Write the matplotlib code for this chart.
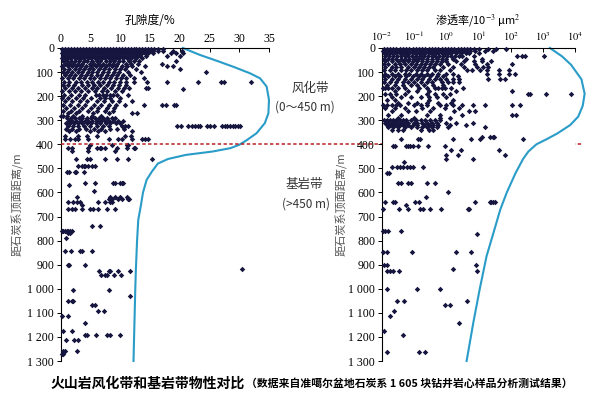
import matplotlib
matplotlib.use('Agg')
import matplotlib.pyplot as plt
from matplotlib.ticker import FixedLocator, FixedFormatter

plt.rcParams['mathtext.fontset'] = 'stix'

# ---------------- data ----------------
depth_ticks = [0, 100, 200, 300, 400, 500, 600, 700, 800, 900, 1000, 1100, 1200, 1300]
depth_labels = ['0', '100', '200', '300', '400', '500', '600', '700', '800', '900',
                '1 000', '1 100', '1 200', '1 300']
por_ticks = [0, 5, 10, 15, 20, 25, 30, 35]
perm_ticks = [1e-2, 1e-1, 1e0, 1e1, 1e2, 1e3, 1e4]
perm_labels = [r'$10^{-2}$', r'$10^{-1}$', r'$10^{0}$', r'$10^{1}$', r'$10^{2}$', r'$10^{3}$', r'$10^{4}$']

# porosity samples: (depth m, [porosity %])
por_rows = [
    (3, [0.2, 0.7, 1.2, 1.7, 2.2, 2.7, 3.2, 3.7, 4.2, 4.7, 5.2, 5.7, 6.2, 6.7, 7.2, 7.7, 8.2, 8.7, 9.2, 9.7,
         10.2, 10.7, 11.2, 11.7, 12.2, 12.7, 13.2, 13.7, 14.2, 14.7, 15.2, 15.6, 16.3, 17.1]),
    (12, [0.4, 0.9, 1.4, 1.9, 2.4, 2.9, 3.4, 3.9, 4.4, 4.9, 5.4, 5.9, 6.4, 6.9, 7.4, 7.9, 8.4, 8.9, 9.4, 9.9,
          10.4, 10.9, 11.4, 11.9, 12.4, 12.9, 13.4, 13.9, 14.4, 14.9, 15.4, 16.4, 17.2, 18.9, 20.3]),
    (22, [0.2, 0.7, 1.2, 1.7, 2.2, 2.7, 3.2, 3.7, 4.2, 4.7, 5.2, 5.7, 6.2, 6.7, 7.2, 7.7, 8.2, 8.7, 9.2, 9.7,
          10.2, 10.7, 11.2, 11.7, 12.2, 12.7, 13.2, 13.7, 14.2, 14.7, 15.5, 18.5, 19.4, 20.6]),
    (32, [0.3, 0.8, 1.3, 1.8, 2.3, 2.8, 3.3, 3.8, 4.3, 4.8, 5.3, 5.8, 6.3, 6.8, 7.3, 7.8, 8.3, 8.8, 9.3, 9.8,
          10.3, 10.8, 11.3, 11.8, 12.3, 12.8, 13.3, 14.3, 17.8, 20.0]),
    (42, [0.1, 0.6, 1.1, 1.7, 2.3, 2.8, 3.4, 3.9, 4.6, 5.1, 5.7, 6.3, 6.9, 7.4, 8.0, 8.6, 9.2, 9.8,
          10.5, 11.1, 11.8, 12.6, 13.6]),
    (55, [0.3, 1.0, 1.6, 2.4, 3.1, 3.9, 4.4, 5.2, 6.0, 6.6, 7.5, 8.2, 9.0, 9.8, 10.5, 11.4, 12.3, 13.1, 19.4]),
    (65, [0.6, 1.3, 2.0, 2.9, 3.6, 4.8, 5.6, 6.3, 7.1, 8.0, 8.8, 9.5, 10.9, 11.8, 12.9, 17.0]),
    (76, [0.2, 1.1, 1.9, 2.6, 3.4, 4.2, 5.0, 5.9, 6.8, 7.6, 8.5, 9.3, 10.2, 11.1, 12.0, 14.1, 17.8, 18.8]),
    (88, [0.5, 1.4, 2.3, 3.0, 3.9, 4.7, 5.4, 6.4, 7.2, 8.0, 9.1, 10.0, 10.8, 12.6, 20.0]),
    (100, [0.3, 1.0, 1.8, 2.8, 3.5, 4.5, 5.3, 6.1, 7.0, 7.9, 8.9, 9.7, 11.3, 13.5, 24.4]),
    (112, [0.7, 1.5, 2.4, 3.3, 4.2, 5.0, 6.0, 6.8, 7.7, 8.6, 9.5, 10.4, 11.6]),
    (125, [0.2, 1.2, 2.0, 3.0, 3.8, 4.8, 5.6, 6.5, 7.4, 8.3, 9.2, 10.1, 11.0, 12.3, 14.0]),
    (140, [0.5, 1.4, 2.5, 3.4, 4.3, 5.3, 6.2, 7.1, 8.1, 9.0, 10.0, 11.0, 12.2, 14.4, 17.9, 23.1, 26.9, 27.4, 31.9]),
    (152, [0.3, 1.2, 2.2, 3.5, 4.5, 5.6, 6.5, 7.7, 8.8, 9.8, 10.9]),
    (165, [0.7, 1.8, 2.8, 4.0, 5.2, 6.1, 7.3, 8.4, 9.6, 10.6, 11.5, 14.3, 14.7]),
    (172, [20.5]),
    (180, [0.2, 1.3, 2.4, 3.3, 4.6, 5.7, 6.9, 7.8, 9.1, 10.2]),
    (195, [0.5, 1.6, 3.0, 4.1, 5.9, 6.4, 7.0, 7.6, 8.2, 8.8, 9.5, 11.2]),
    (208, [0.2, 1.1, 2.5, 3.7, 5.0, 6.6, 7.4, 8.3, 10.0]),
    (222, [0.6, 1.9, 3.2, 4.4, 6.0, 7.2, 8.6, 9.8, 12.0]),
    (236, [0.3, 1.5, 2.8, 4.1, 5.5, 6.8, 8.0, 9.3, 10.8, 13.9, 17.0, 17.7, 19.0, 19.4]),
    (250, [0.8, 2.2, 3.5, 5.0, 6.2, 7.8, 9.0]),
    (262, [0.4, 1.7, 3.0, 4.6, 6.0, 7.4, 8.7]),
    (272, [1.2, 2.5, 5.4, 8.0, 11.9, 12.8]),
    (283, [0.0, 0.4, 1.0, 2.0, 3.5, 5.2, 6.8]),
    (292, [1.0, 1.6, 2.3, 3.0, 3.6, 4.3, 5.0, 5.7, 6.4, 7.1, 7.8, 8.5, 9.1]),
    (302, [1.3, 1.9, 2.6, 3.3, 4.0, 4.6, 5.3, 6.0, 6.7, 7.4, 8.1, 8.8, 9.6, 10.5]),
    (312, [0.8, 1.5, 2.2, 2.9, 3.6, 4.4, 5.1, 5.9, 6.6, 7.5, 8.3, 9.2, 10.0]),
    (325, [1.1, 2.0, 2.9, 3.8, 4.9, 6.0, 7.0, 8.0, 10.2, 10.8, 11.3, 19.5, 20.2, 21.4, 22.0, 22.5, 23.0, 23.4,
           24.6, 25.1, 25.8, 27.1, 27.6, 28.0, 28.4, 28.9, 29.3, 29.7, 30.1]),
    (335, [0.8, 1.8, 3.0, 4.2, 5.5, 6.8, 8.2, 9.5, 10.6]),
    (346, [1.4, 2.6, 4.8, 6.3, 7.4, 12.0]),
    (366, [0.7, 2.9, 4.3, 6.0, 10.7, 11.8]),
    (380, [0.7, 1.5, 2.4, 2.9, 4.6, 8.0, 9.6, 10.2, 11.9, 13.6, 14.1, 14.7]),
    (401, [4.9, 8.5, 11.1, 11.3]),
    (416, [1.2, 1.8, 4.6, 6.0, 6.6, 6.8, 7.4, 9.4, 11.1, 12.2, 12.5]),
    (426, [1.8, 4.5, 9.1]),
    (463, [2.5, 4.3, 4.9, 7.4, 9.4, 11.3, 15.3]),
    (491, [2.9, 3.5, 3.8, 4.0, 4.6, 5.2, 5.7]),
    (517, [1.0, 1.4, 2.4, 2.6, 3.9]),
    (561, [4.0, 5.7, 8.8, 9.1, 9.9, 10.2, 10.4]),
    (569, [1.4]),
    (596, [5.6]),
    (617, [2.7, 8.2, 9.1, 9.9, 11.1]),
    (627, [8.0, 8.5, 9.6, 10.2, 11.2, 11.4]),
    (640, [1.2, 2.1, 2.7, 3.2, 6.3, 7.4, 8.2, 8.5]),
    (651, [3.6]),
    (668, [1.2, 1.8, 2.4, 3.6, 4.8, 5.4, 6.3, 7.7, 9.1]),
    (741, [5.3, 6.6]),
    (758, [0.1, 0.4, 0.7, 1.0, 1.2, 1.5, 1.8]),
    (768, [1.2, 1.5]),
    (789, [0.8]),
    (845, [0.7, 1.6, 3.2, 3.6, 5.3]),
    (901, [1.2, 1.4, 4.0]),
    (917, [30.4]),
    (925, [6.4, 8.0, 8.2, 9.6, 11.6]),
    (943, [6.8, 7.4, 7.8, 9.0, 10.1]),
    (1004, [2.0, 8.0]),
    (1032, [11.6]),
    (1050, [1.2, 1.8, 2.1]),
    (1066, [5.3, 5.7]),
    (1091, [6.2, 7.2]),
    (1112, [0.1, 1.2]),
    (1141, [4.0]),
    (1177, [0.3, 1.8]),
    (1193, [4.0, 4.4, 5.9, 7.7, 8.2, 10.0]),
    (1214, [0.8, 2.2, 2.9]),
    (1260, [0.3, 0.6, 2.7]),
    (1270, [0.1, 0.4]),
]

# permeability samples: (depth m, [log10 permeability, 10^-3 um^2])
perm_rows = [
    (3, [-1.95, -1.85, -1.75, -1.65, -1.55, -1.45, -1.35, -1.25, -1.15, -1.05, -0.95, -0.85, -0.75, -0.65,
         -0.55, -0.45, -0.35, -0.25, -0.15, -0.05, 0.05, 0.15, 0.25, 0.35, 0.45, 0.55, 0.65, 0.75, 0.85, 1.0,
         1.3, 1.55, 1.87]),
    (12, [-1.98, -1.88, -1.78, -1.68, -1.58, -1.48, -1.38, -1.28, -1.18, -1.08, -0.98, -0.88, -0.78, -0.68,
          -0.58, -0.48, -0.38, -0.28, -0.18, -0.08, 0.02, 0.12, 0.22, 0.32, 0.42, 0.52, 0.62, 0.75, 0.9,
          1.2, 1.45]),
    (22, [-1.95, -1.85, -1.75, -1.65, -1.55, -1.45, -1.35, -1.25, -1.15, -1.05, -0.95, -0.85, -0.75, -0.65,
          -0.55, -0.45, -0.35, -0.25, -0.15, -0.05, 0.05, 0.15, 0.3, 0.45, 0.6, 0.7, 1.0]),
    (33, [-1.9, -1.78, -1.66, -1.54, -1.42, -1.3, -1.18, -1.06, -0.94, -0.82, -0.7, -0.58, -0.46, -0.34,
          -0.22, -0.1, 0.02, 0.14, 0.26, 0.38, 0.5, 0.85, 2.2, 2.35, 2.45, 3.03]),
    (44, [-1.95, -1.82, -1.7, -1.55, -1.42, -1.3, -1.15, -1.0, -0.88, -0.75, -0.6, -0.45, -0.3, -0.15,
          0.0, 0.2, 0.6, 1.1]),
    (55, [-1.9, -1.7, -1.5, -1.35, -1.2, -1.05, -0.9, -0.75, -0.6, -0.45, -0.3, -0.15, 0.0, 0.3, 0.55,
          0.85, 1.1, 1.4]),
    (68, [-1.95, -1.8, -1.6, -1.45, -1.3, -1.1, -0.95, -0.8, -0.65, -0.5, -0.35, -0.2, 0.05, 0.45, 0.9,
          1.25, 2.03]),
    (80, [-1.9, -1.7, -1.55, -1.4, -1.2, -1.0, -0.85, -0.7, -0.55, -0.4, -0.1, 0.2, 0.55, 0.95, 1.15, 1.3]),
    (92, [-1.95, -1.75, -1.6, -1.4, -1.25, -1.1, -0.9, -0.75, -0.6, -0.35, -0.2, 0.1, 0.65, 0.8, 1.05,
          1.25, 1.64, 1.95]),
    (106, [-1.9, -1.7, -1.5, -1.3, -1.15, -0.95, -0.8, -0.6, -0.45, -0.25, 0.0, 0.2, 1.25, 1.64, 1.95, 2.13]),
    (118, [-1.95, -1.8, -1.6, -1.45, -1.25, -1.05, -0.85, -0.7, -0.5, -0.3, -0.1, 0.35]),
    (130, [-1.9, -1.7, -1.5, -1.3, -1.1, -0.9, -0.75, -0.55, -0.35, -0.2, 0.0, 0.2, 0.4, 1.3, 1.66, 1.82]),
    (143, [-1.95, -1.75, -1.55, -1.35, -1.2, -1.0, -0.8, -0.6, -0.45, -0.15, 0.05, 0.2, 0.4]),
    (155, [-1.85, -1.6, -1.35, -1.1, -0.9, -0.7, -0.4, -0.1]),
    (168, [-1.98, -1.9, -1.8, -1.7, -1.5, -1.3, -0.85, -0.6, -0.35, -0.25, -0.15, -0.05, 0.15, 0.53]),
    (178, [-1.6, -1.2, -0.9, -0.55, 0.3, 2.03]),
    (192, [-1.9, -1.75, -1.55, -1.3, -0.6, -0.35, -0.1, 0.1, 2.54, 2.6, 3.1, 3.87]),
    (205, [-1.7, -1.4, -1.1, -0.8, -0.55, -0.3, 0.0]),
    (215, [-1.85, -1.6, -0.55, 0.2]),
    (228, [-1.5, -1.2, -0.9, -0.6, -0.25, 0.15]),
    (238, [-1.98, -1.85, -1.7, -1.55, -1.45, -1.0, -0.8, -0.6, -0.2, 0.0, 0.2, 0.5, 0.84, 1.2, 2.03, 2.29]),
    (250, [-1.9, -1.6, -1.3, -0.75, -0.4, -0.05, 0.4]),
    (262, [-1.7, -1.2, -0.95, -0.5, 0.25, 0.7, 0.89]),
    (279, [-1.8, -1.4, -0.6, -0.2, 0.5, 2.03, 2.18]),
    (290, [-1.5, -1.0, -0.2, 0.1]),
    (300, [-1.95, -1.85, -1.75, -1.65, -1.55, -1.45, -1.35, -1.25, -1.1, -0.95, -0.8, -0.65, -0.5, -0.35, -0.2]),
    (310, [-1.9, -1.8, -1.7, -1.6, -1.5, -1.4, -1.3, -1.2, -1.0, -0.9, -0.75, -0.6, -0.45, -0.3, 0.0, 0.3, 0.83]),
    (320, [-1.85, -1.75, -1.65, -1.55, -1.45, -1.35, -1.2, -1.05, -0.9, -0.7, -0.55, -0.4, -0.25, 0.1, 0.6]),
    (330, [-1.8, -1.65, -1.5, -1.3, -1.1, -0.9, -0.75, -0.6, -0.45, -0.3, 0.05, 1.2]),
    (340, [-1.7, -1.5, -1.35, -0.8, -0.55, -0.4]),
    (368, [1.1, 1.35, 1.44, 1.49]),
    (377, [-1.41, -0.87, -0.82, 0.22, 0.78, 1.04, 2.39]),
    (408, [-1.67, -1.6, -1.25, -1.18, -1.13, -1.03, -0.87, -0.56, -0.04]),
    (425, [0.16, 0.45, 1.64]),
    (443, [0.0, 0.37, 1.82]),
    (463, [0.0, 0.84]),
    (472, [-1.32]),
    (494, [-1.7, -1.54, -1.44, -1.34, -1.23, -1.13, -1.03, -0.72]),
    (520, [-1.83, -1.78]),
    (559, [-1.49, -1.41, -1.18, -1.1, -0.61, -0.35]),
    (598, [0.06]),
    (619, [-0.63]),
    (640, [-1.91, -1.65, -1.6, -0.98, -0.84, 0.89, 1.35, 1.4, 1.46, 1.5]),
    (651, [-1.25]),
    (668, [-1.98, -1.47, -1.18, -0.82, -0.72, -0.51, -0.18, 0.68, 0.71]),
    (758, [-1.98, -1.91, -1.8, -1.42]),
    (772, [0.94]),
    (848, [-1.96, -1.86, -1.08, 0.3, 0.78]),
    (901, [-1.94, -1.83, 0.92]),
    (917, [0.2]),
    (925, [-1.83, -1.75, -1.65, -1.46, 0.96]),
    (1000, [-1.83, -0.9, -0.2]),
    (1052, [-1.54, -1.31, 0.63]),
    (1066, [-0.04, 0.11]),
    (1094, [-1.63]),
    (1115, [-1.75]),
    (1142, [0.4]),
    (1177, [-1.94]),
    (1191, [-1.34]),
    (1263, [-1.84, -0.86, -0.65]),
]

# trend curves
por_curve_depth = [0, 29, 53, 78, 105, 126, 160, 216, 271, 312, 354, 382, 402, 416, 430, 444, 461, 480,
                   513, 548, 600, 660, 714, 800, 920, 1000, 1150, 1300]
por_curve_val = [20.5, 23.4, 26.2, 29.0, 31.8, 33.5, 34.6, 35.0, 34.9, 34.3, 32.9, 31.3, 30.0, 28.5,
                 25.5, 21.0, 18.0, 16.3, 15.3, 14.4, 13.8, 13.4, 13.0, 12.8, 12.6, 12.5, 12.35, 12.2]
perm_curve_depth = [0, 35, 70, 130, 190, 240, 285, 320, 355, 380, 400, 430, 460, 520, 600, 670, 770,
                    865, 1000, 1140, 1300]
perm_curve_log = [3.22, 3.6, 3.88, 4.2, 4.3, 4.24, 4.1, 3.85, 3.45, 3.1, 2.8, 2.55, 2.39, 2.15, 1.88,
                  1.68, 1.46, 1.25, 1.04, 0.84, 0.63]

boundary_depth = 400

# ---------------- plotting ----------------
CJK = ['Noto Sans CJK SC', 'DejaVu Sans']
SERIF = 'Liberation Serif'
DOT = '#15153f'
CURVE = '#2a9cc8'

fig = plt.figure(figsize=(6.0, 3.98), dpi=100)
ax1 = fig.add_axes([61 / 600, 1 - 361 / 398, 208 / 600, 313 / 398])
ax2 = fig.add_axes([382 / 600, 1 - 361 / 398, 193 / 600, 313 / 398])

por_x = [v for d, vals in por_rows for v in vals]
por_y = [d for d, vals in por_rows for v in vals]
perm_x = [10 ** v for d, vals in perm_rows for v in vals]
perm_y = [d for d, vals in perm_rows for v in vals]

ax1.plot(por_x, por_y, linestyle='none', marker='D', markersize=2.8, color=DOT, mew=0, clip_on=False, zorder=3)
ax1.plot(por_curve_val, por_curve_depth, color=CURVE, lw=1.5, zorder=2, clip_on=False)
ax2.plot(perm_x, perm_y, linestyle='none', marker='D', markersize=2.8, color=DOT, mew=0, clip_on=False, zorder=3)
ax2.plot([10 ** v for v in perm_curve_log], perm_curve_depth, color=CURVE, lw=1.5, zorder=2, clip_on=False)

ax1.set_xlim(0, 35)
ax2.set_xscale('log')
ax2.set_xlim(1e-2, 1e4)

for ax in (ax1, ax2):
    ax.set_ylim(1300, 0)
    ax.spines['right'].set_visible(False)
    ax.spines['bottom'].set_visible(False)
    for s in ('left', 'top'):
        ax.spines[s].set_linewidth(0.8)
    ax.xaxis.tick_top()
    ax.yaxis.set_major_locator(FixedLocator(depth_ticks))
    ax.yaxis.set_major_formatter(FixedFormatter(depth_labels))
    ax.tick_params(axis='y', which='major', direction='out', length=3, width=0.7,
                   labelsize=8.5, pad=2)
    ax.tick_params(axis='x', which='major', direction='in', length=3, width=0.7,
                   labelsize=8.5, pad=2)
    ax.tick_params(axis='x', which='minor', length=0)
    for lab in ax.get_yticklabels():
        lab.set_family(SERIF)

ax1.xaxis.set_major_locator(FixedLocator(por_ticks))
ax1.xaxis.set_major_formatter(FixedFormatter([str(t) for t in por_ticks]))
for lab in ax1.get_xticklabels():
    lab.set_family(SERIF)
ax2.xaxis.set_major_locator(FixedLocator(perm_ticks))
ax2.xaxis.set_major_formatter(FixedFormatter(perm_labels))
ax2.tick_params(axis='x', labelsize=7.5, pad=3.5)

# boundary dashed line across both panels
ax1.axhline(boundary_depth, xmin=0, xmax=(583 - 61) / 208, color='#b82025', lw=1.1,
            linestyle=(0, (2.2, 1.6)), clip_on=False, zorder=4)

# axis titles
fig.text(150 / 600, 1 - 21 / 398, '孔隙度/%', family=CJK, fontsize=8.5, ha='center', va='center')
fig.text(478 / 600, 1 - 20 / 398, '渗透率/10$^{-3}$ μm$^{2}$', family=CJK, fontsize=8, ha='center', va='center')
for x in (18, 342):
    fig.text(x / 600, 1 - 204 / 398, '距石炭系顶面距离/m', family=CJK, fontsize=8, color='#555555',
             rotation=90, ha='center', va='center')

# zone labels
fig.text(310 / 600, 1 - 88 / 398, '风化带', family=CJK, fontsize=9, ha='center', va='center', color='#333333')
fig.text(305 / 600, 1 - 107 / 398, '(0～450 m)', family=CJK, fontsize=8.5, ha='center', va='center', color='#333333')
fig.text(304 / 600, 1 - 185 / 398, '基岩带', family=CJK, fontsize=9, ha='center', va='center', color='#333333')
fig.text(306 / 600, 1 - 204 / 398, '(>450 m)', family=CJK, fontsize=8.5, ha='center', va='center', color='#333333')

# caption
fig.text(50 / 600, 1 - 384 / 398, '火山岩风化带和基岩带物性对比', family=CJK, fontsize=10,
         fontweight='bold', ha='left', va='center')
fig.text(246 / 600, 1 - 384 / 398, '（数据来自准噶尔盆地石炭系 1 605 块钻井岩心样品分析测试结果）',
         family=CJK, fontsize=7.8, fontweight='bold', ha='left', va='center')

fig.savefig('out.png', dpi=100)
